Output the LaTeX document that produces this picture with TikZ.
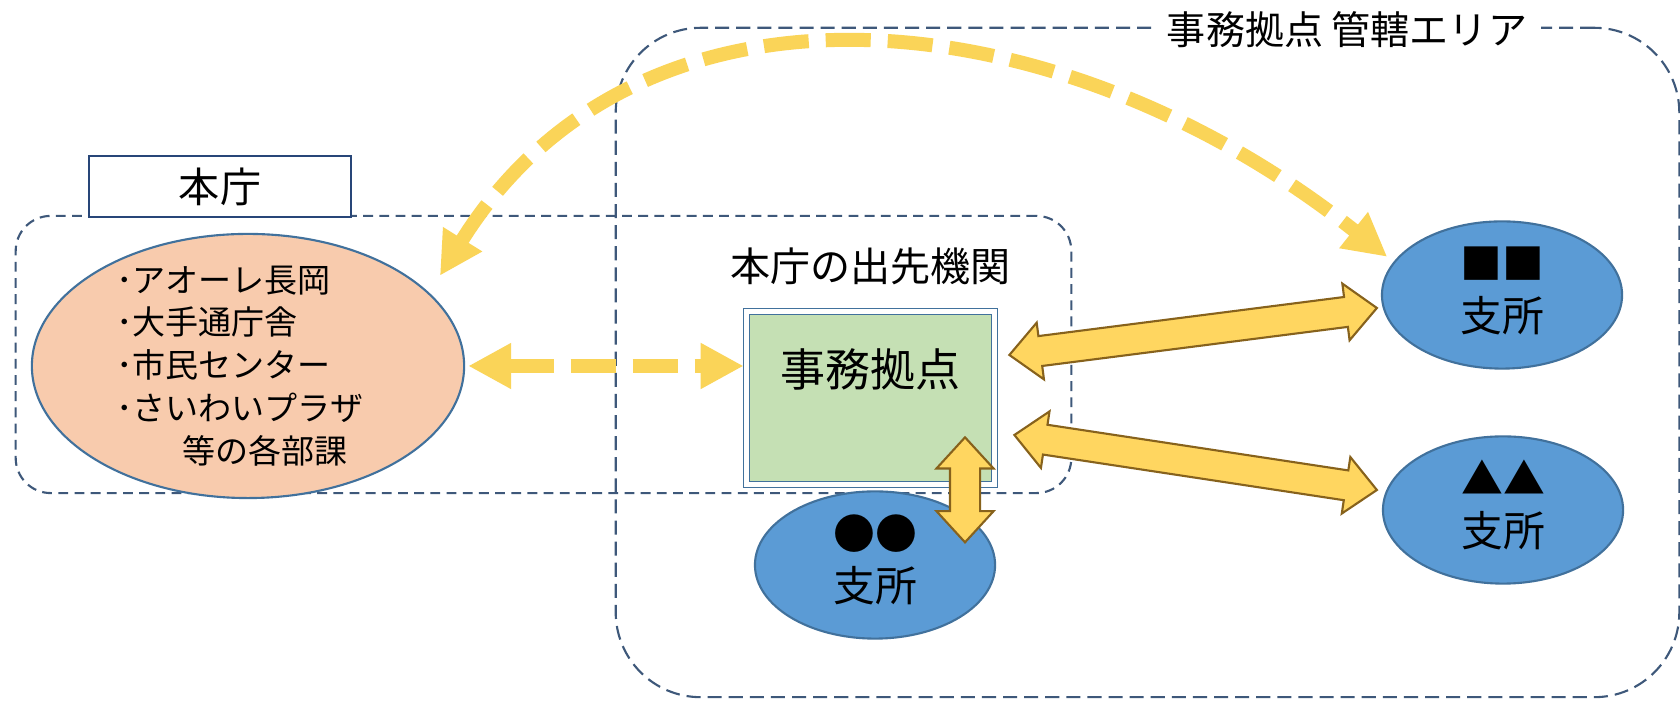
\documentclass[tikz,border=0pt]{standalone}
\usepackage{fontspec}
\setmainfont{Noto Sans CJK JP}
\usetikzlibrary{positioning,calc,shapes.geometric,shapes.arrows,arrows.meta}

\definecolor{arealine}{RGB}{62,88,122}
\definecolor{titleline}{RGB}{40,70,120}
\definecolor{honchofill}{RGB}{248,203,173}
\definecolor{shishofill}{RGB}{91,155,213}
\definecolor{shisholine}{RGB}{65,113,156}
\definecolor{kyotenfill}{RGB}{197,224,180}
\definecolor{dashyellow}{RGB}{250,212,88}
\definecolor{blockfill}{RGB}{255,214,96}
\definecolor{blockline}{RGB}{135,98,28}

\begin{document}
\begin{tikzpicture}[x=0.01cm, y=0.01cm, >={Triangle[width=0.43cm, length=0.43cm]}]
    \tikzset{zonebox/.style = {draw=arealine, line width=0.6pt, dash pattern=on 4pt off 2pt}}
    \tikzset{namebox/.style = {draw=titleline, line width=0.7pt, fill=white, minimum width=2.62cm, minimum height=0.61cm, inner sep=0pt, font=\fontsize{11.7pt}{14pt}\selectfont}}
    \tikzset{honchoell/.style = {ellipse, draw=shisholine, line width=0.6pt, fill=honchofill, minimum width=4.32cm, minimum height=2.64cm, inner sep=0pt}}
    \tikzset{shishoell/.style = {ellipse, draw=shisholine, line width=0.6pt, fill=shishofill, minimum width=2.4cm, minimum height=1.46cm, inner sep=0pt, align=center, font=\fontsize{11.9pt}{14.8pt}\selectfont}}
    \tikzset{kyotenbox/.style = {draw=shisholine, line width=0.45pt, double=white, double distance=1.2pt, fill=kyotenfill, minimum width=2.48cm, minimum height=1.73cm, inner sep=0pt, text height=0.40cm, text depth=0.62cm, font=\fontsize{12.8pt}{15pt}\selectfont}}
    \tikzset{dasharr/.style = {<->, draw=dashyellow, line width=0.14cm, dash pattern=on 0.45cm off 0.17cm}}
    \tikzset{blockarr/.style = {double arrow, draw=blockline, fill=blockfill, line width=0.6pt, inner xsep=0pt, inner ysep=0.14cm, minimum width=0.55cm, double arrow head extend=0.135cm, double arrow tip angle=85}}

    \path[use as bounding box, fill=white] (0,0) rectangle (1680,701);

    \node[zonebox, minimum width=10.63cm, minimum height=6.69cm, rounded corners=0.85cm] (area) at (1147.5,338.5) {};
    \node[fill=white, inner xsep=4pt, inner ysep=1pt, font=\fontsize{11.1pt}{13pt}\selectfont] (areaname) at (1347,671) {事務拠点 管轄エリア};
    \node[zonebox, dash pattern=on 2.8pt off 1.8pt, minimum width=10.55cm, minimum height=2.77cm, rounded corners=0.35cm] (zone) at (543.5,346.5) {};

    \node[namebox] (honchoname) at (220,514.5) {本庁};
    \node[honchoell] (honcho) at (248,335) {};
    \node[align=left, inner sep=0pt, font=\fontsize{9.4pt}{12.2pt}\selectfont] (honcholist) at ($(honcho.center)+(-8,0)$) {･アオーレ長岡\\･大手通庁舎\\･市民センター\\･さいわいプラザ\\\hspace{2em}等の各部課};

    \node[kyotenbox] (kyoten) at (870.5,303) {事務拠点};
    \node[above=0.25cm of kyoten, inner sep=0pt, font=\fontsize{11.4pt}{13pt}\selectfont] (dehsaki) {本庁の出先機関};

    \node[shishoell] (maru) at (875,136) {\strut{}●●\\\strut{}支所};
    \node[shishoell] (shikaku) at (1502,406) {\strut{}■■\\\strut{}支所};
    \node[shishoell] (sankaku) at (1503,191) {\strut{}▲▲\\\strut{}支所};

    \draw[dasharr, shorten <=0.03cm, shorten >=0.02cm] (honcho.east) -- (honcho.east -| kyoten.west);
    \draw[dasharr, shorten <=0.2cm, shorten >=0.08cm] (honcho.22) .. controls (641,748) and (1059,705) .. (shikaku.163);

    \coordinate (k1) at ($(kyoten.east)+(14,43)$);
    \coordinate (s1) at ($(shikaku.west)+(-4,-13)$);
    \coordinate (k2) at ($(kyoten.east)+(19,-37)$);
    \coordinate (s2) at ($(sankaku.west)+(-5,20)$);
    \coordinate (k3) at ($(kyoten.south)+(94.5,48)$);
    \coordinate (m3) at ($(maru.north)+(90,-52)$);

    \path let \p1=(k1), \p2=(s1), \n1={atan2(\y2-\y1,\x2-\x1)}, \n2={veclen(\x2-\x1,\y2-\y1)} in
        node[blockarr, rotate=\n1, minimum height=\n2] (kyotenshikaku) at ($(\p1)!0.5!(\p2)$) {};
    \path let \p1=(k2), \p2=(s2), \n1={atan2(\y2-\y1,\x2-\x1)}, \n2={veclen(\x2-\x1,\y2-\y1)} in
        node[blockarr, rotate=\n1, minimum height=\n2] (kyotensankaku) at ($(\p1)!0.5!(\p2)$) {};
    \path let \p1=(k3), \p2=(m3), \n1={atan2(\y2-\y1,\x2-\x1)}, \n2={veclen(\x2-\x1,\y2-\y1)} in
        node[blockarr, rotate=\n1, minimum height=\n2] (kyotenmaru) at ($(\p1)!0.5!(\p2)$) {};
\end{tikzpicture}
\end{document}
